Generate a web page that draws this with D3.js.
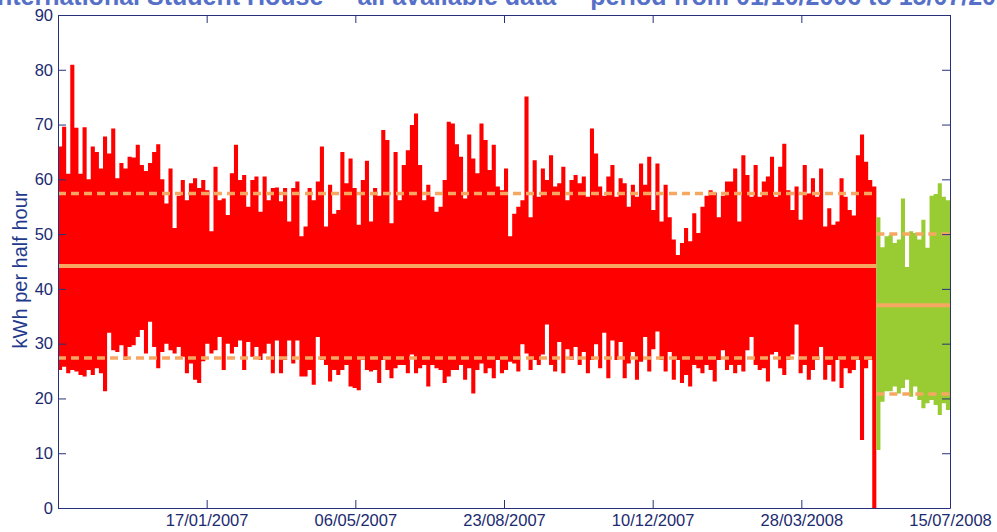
<!DOCTYPE html>
<html>
<head>
<meta charset="utf-8">
<script src="https://cdn.jsdelivr.net/npm/d3@7"></script>
<style>
  body { margin: 0; background: #fff; }
  text { font-family: "Liberation Sans", Arial, sans-serif; }
  .axis path, .axis line { stroke: #27317a; }
  .axis text { fill: #1c2a70; font-size: 16.5px; }
</style>
</head>
<body>
<script>
var w = 997;
var h = 532;

// half hour readings, shown as max / min envelope in 3-day steps
var redStart = "2006-09-30";
var redMax = [66.0,69.6,61.0,80.9,69.4,61.0,69.5,60.0,66.0,65.0,62.0,67.8,64.7,69.3,60.2,63.0,62.0,64.1,64.0,66.3,
  62.6,61.5,63.0,65.0,66.4,60.0,55.6,62.0,51.1,57.0,59.9,56.2,59.3,60.2,58.4,59.9,58.0,50.5,62.3,56.2,
  56.5,53.5,61.1,66.3,59.9,60.8,55.0,59.9,60.5,54.1,60.5,56.2,58.4,58.5,56.0,58.4,52.3,58.4,59.6,49.6,
  51.4,58.4,56.2,59.6,66.0,51.4,59.0,53.7,54.4,65.0,59.3,63.8,58.4,51.7,59.9,63.4,52.3,58.4,57.0,69.0,
  67.2,52.0,65.0,56.2,62.6,65.3,69.9,72.0,62.6,56.2,59.0,56.8,54.1,55.0,59.9,70.5,70.2,66.4,64.1,56.5,
  68.2,63.8,61.1,70.2,67.2,61.7,66.3,58.7,58.0,62.0,49.6,53.7,55.0,56.2,75.1,53.1,63.5,56.8,62.0,59.9,
  64.4,58.7,59.3,62.3,56.2,59.9,60.8,59.3,60.5,56.8,69.3,64.7,58.7,57.0,60.5,62.6,56.8,60.2,59.3,55.0,
  59.0,56.8,62.9,59.0,64.1,54.4,62.9,52.3,59.0,53.1,49.0,46.2,48.4,51.1,48.7,53.8,50.2,55.0,57.0,58.0,
  57.6,53.1,57.0,59.6,59.6,62.0,52.3,64.4,60.8,56.8,62.6,56.8,59.6,60.5,64.1,56.8,62.3,66.5,58.0,54.4,
  58.7,52.6,62.6,57.4,60.2,56.8,62.0,51.4,54.7,51.7,52.3,60.2,56.8,54.4,53.4,64.4,68.2,63.2,59.9,58.7];
var redMin = [25.2,25.8,24.6,25.2,24.9,24.3,24.0,25.2,24.3,25.5,24.6,21.3,32.0,28.8,28.5,29.7,27.0,29.4,29.7,31.2,
  32.5,28.2,34.0,29.4,25.5,28.5,30.0,28.8,28.2,29.4,27.6,24.6,26.4,23.4,22.8,26.8,30.0,28.2,28.8,31.2,
  25.2,30.0,28.2,29.4,30.6,25.2,30.3,27.6,29.4,27.0,28.2,30.0,24.6,30.6,24.6,27.0,30.6,26.4,30.6,24.0,
  24.0,25.2,22.5,31.2,27.0,26.1,23.1,25.2,24.3,25.2,26.1,22.2,21.9,21.5,27.0,25.2,24.9,25.2,22.8,27.0,
  25.2,23.7,25.5,26.1,26.1,24.6,28.0,24.6,25.5,26.1,22.2,26.1,25.5,25.2,22.8,24.0,25.2,25.2,26.1,23.4,
  25.5,20.9,25.2,26.4,24.6,25.5,23.7,27.0,24.6,25.2,26.7,26.4,24.9,29.9,28.2,25.2,27.0,26.1,28.0,33.5,
  26.1,24.9,30.3,24.6,29.0,27.0,29.4,26.1,28.5,24.6,27.0,29.9,25.5,32.0,23.7,30.6,27.0,30.3,23.7,26.4,
  28.5,23.4,26.7,31.2,24.9,29.0,32.2,27.0,24.9,28.5,23.4,27.0,22.8,24.3,22.2,26.1,25.5,24.6,26.1,25.2,
  23.1,27.0,28.8,25.2,26.1,24.6,26.1,24.9,28.8,31.2,26.1,25.2,25.5,23.1,28.0,28.5,25.5,24.3,27.0,28.0,
  33.5,24.6,26.1,23.4,25.2,27.0,29.4,23.4,26.1,23.1,27.0,21.9,25.5,24.6,25.2,27.0,12.4,25.5,27.0,0.0];

var greenStart = "2008-05-22";
var greenMax = [53.1,47.6,49.6,49.9,48.4,49.0,56.5,44.0,50.5,50.2,49.0,52.6,47.5,57.0,57.3,59.3,56.8,56.2];
var greenMin = [10.6,19.4,21.3,21.3,22.2,20.9,21.9,23.4,20.3,22.2,19.7,18.2,19.1,19.7,18.8,17.0,19.1,17.9];

// lower band / mean / upper band lines
var redStats = [27.4, 44.2, 57.4];
var greenStats = [20.8, 37.0, 50.0];

var xTickLabels = ["17/01/2007", "06/05/2007", "23/08/2007", "10/12/2007", "28/03/2008", "15/07/2008"];
var yTicks = [0, 10, 20, 30, 40, 50, 60, 70, 80, 90];

var parseIso = d3.utcParse("%Y-%m-%d");
var parseDmy = d3.utcParse("%d/%m/%Y");

var margin = {left: 58, right: 47, top: 15, bottom: 24};

var xScale = d3.scaleUtc()
    .domain([parseIso("2006-09-30"), parseIso("2008-07-15")])
    .range([margin.left, w - margin.right]);

var yScale = d3.scaleLinear()
    .domain([0, 90])
    .range([h - margin.bottom, margin.top]);

var svg = d3.select("body")
    .append("svg")
    .attr("width", w)
    .attr("height", h);

//title, cut at the top edge
svg.append("text")
    .attr("x", -10)
    .attr("y", 5)
    .attr("font-size", 25)
    .attr("font-weight", "bold")
    .attr("fill", "#5670c8")
    .text("International Student House - \"all available data\" - period from 01/10/2006 to 15/07/2008");

function toPoints(start, maxs, mins) {
    var t0 = parseIso(start);
    var pts = maxs.map(function(v, i) {
        return {date: d3.utcDay.offset(t0, 3 * i), hi: v, lo: mins[i]};
    });
    var last = pts[pts.length - 1];
    pts.push({date: d3.utcDay.offset(last.date, 3), hi: last.hi, lo: last.lo});
    return pts;
}

var redPts = toPoints(redStart, redMax, redMin);
var greenPts = toPoints(greenStart, greenMax, greenMin);

var area = d3.area()
    .curve(d3.curveStepAfter)
    .x(d => xScale(d.date))
    .y0(d => yScale(d.lo))
    .y1(d => yScale(d.hi));

svg.append("defs").append("clipPath")
    .attr("id", "plot")
    .append("rect")
    .attr("x", margin.left)
    .attr("y", margin.top)
    .attr("width", w - margin.left - margin.right)
    .attr("height", h - margin.top - margin.bottom);

var g = svg.append("g").attr("clip-path", "url(#plot)");

g.append("path")
    .datum(redPts)
    .attr("fill", "#ff0000")
    .attr("d", area);

g.append("path")
    .datum(greenPts)
    .attr("fill", "#99cc33")
    .attr("d", area);

//mean and band lines
function statLines(stats, x0, x1) {
    stats.forEach(function(v, i) {
        g.append("line")
            .attr("x1", x0)
            .attr("x2", x1)
            .attr("y1", yScale(v))
            .attr("y2", yScale(v))
            .attr("stroke", "#f6a862")
            .attr("stroke-width", i == 1 ? 4 : 3.5)
            .attr("stroke-dasharray", i == 1 ? null : "8,5");
    });
}
var redEnd = redPts[redPts.length - 1].date;
var greenEnd = greenPts[greenPts.length - 1].date;
statLines(redStats, xScale(parseIso(redStart)), xScale(redEnd));
statLines(greenStats, xScale(parseIso(greenStart)), xScale(greenEnd));

//axes
var xTicks = xTickLabels.map(parseDmy);

svg.append("g")
    .attr("class", "axis")
    .attr("transform", "translate(0," + (h - margin.bottom) + ")")
    .call(d3.axisBottom(xScale).tickValues(xTicks).tickFormat(d3.utcFormat("%d/%m/%Y"))
        .tickSize(-8).tickSizeOuter(0).tickPadding(6))
    .selectAll("text").attr("font-size", 17.5);

svg.append("g")
    .attr("class", "axis")
    .attr("transform", "translate(0," + margin.top + ")")
    .call(d3.axisTop(xScale).tickValues(xTicks).tickFormat("")
        .tickSize(-8).tickSizeOuter(0));

svg.append("g")
    .attr("class", "axis")
    .attr("transform", "translate(" + margin.left + ",0)")
    .call(d3.axisLeft(yScale).tickValues(yTicks)
        .tickSize(-8).tickSizeOuter(0).tickPadding(5));

svg.append("g")
    .attr("class", "axis")
    .attr("transform", "translate(" + (w - margin.right) + ",0)")
    .call(d3.axisRight(yScale).tickValues(yTicks).tickFormat("")
        .tickSize(-8).tickSizeOuter(0));

svg.selectAll(".axis text").attr("font-family", null);

//y axis title
svg.append("text")
    .attr("transform", "translate(27," + ((margin.top + h - margin.bottom) / 2 + 8) + ") rotate(-90)")
    .attr("text-anchor", "middle")
    .attr("font-size", 20)
    .attr("fill", "#1f3a8c")
    .text("kWh per half hour");
</script>
</body>
</html>
